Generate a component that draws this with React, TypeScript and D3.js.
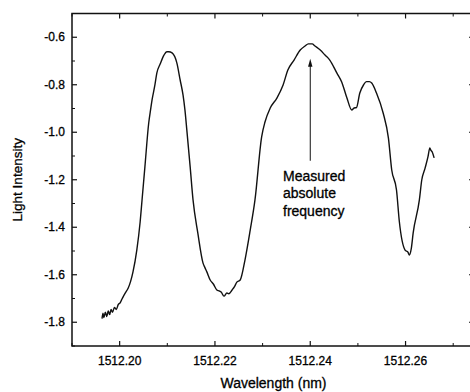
import React from "react";
import * as d3 from "d3";

const wavelength = [
  1512.1963, 1512.1965, 1512.1967, 1512.1970, 1512.1973, 1512.1976, 1512.1979, 1512.1982, 1512.1985,
  1512.1989, 1512.1993, 1512.1997, 1512.2001, 1512.2004, 1512.2007, 1512.2012, 1512.2018, 1512.2023,
  1512.2028, 1512.2036, 1512.2043, 1512.2047, 1512.2053, 1512.2061, 1512.2065, 1512.2068,
  1512.2074, 1512.2078, 1512.2085, 1512.2093, 1512.2099, 1512.2103, 1512.2110, 1512.2120, 1512.2127,
  1512.2133, 1512.2137, 1512.2141, 1512.2148, 1512.2154, 1512.2164, 1512.2175, 1512.2179, 1512.2183,
  1512.2190, 1512.2197, 1512.2204, 1512.2209, 1512.2213, 1512.2219, 1512.2225, 1512.2229, 1512.2236,
  1512.2241, 1512.2246, 1512.2253, 1512.2263, 1512.2274, 1512.2284, 1512.2298, 1512.2305, 1512.2316,
  1512.2330, 1512.2343, 1512.2353, 1512.2366, 1512.2379, 1512.2389, 1512.2396, 1512.2404, 1512.2410,
  1512.2421, 1512.2431, 1512.2441, 1512.2456, 1512.2466, 1512.2477, 1512.2487, 1512.2492, 1512.2497,
  1512.2504, 1512.2512, 1512.2518, 1512.2524, 1512.2529, 1512.2539, 1512.2553, 1512.2564, 1512.2571,
  1512.2581, 1512.2587, 1512.2599, 1512.2605, 1512.2608, 1512.2612, 1512.2616, 1512.2629, 1512.2634,
  1512.2641, 1512.2647, 1512.2651, 1512.2653, 1512.2656, 1512.2660,
];

const intensity = [
  -1.785, -1.762, -1.780, -1.758, -1.776, -1.752, -1.768, -1.746, -1.758,
  -1.738, -1.746, -1.726, -1.718, -1.706, -1.694, -1.676, -1.656, -1.628,
  -1.588, -1.496, -1.378, -1.285, -1.146, -0.961, -0.904, -0.864,
  -0.801, -0.751, -0.713, -0.675, -0.661, -0.661, -0.666, -0.708, -0.780,
  -0.843, -0.906, -0.991, -1.146, -1.285, -1.424, -1.551, -1.570, -1.588,
  -1.622, -1.640, -1.664, -1.668, -1.673, -1.690, -1.677, -1.680, -1.664,
  -1.650, -1.631, -1.622, -1.538, -1.412, -1.285, -1.019, -0.957, -0.898,
  -0.856, -0.801, -0.738, -0.696, -0.654, -0.637, -0.628, -0.628, -0.637,
  -0.654, -0.675, -0.696, -0.751, -0.788, -0.856, -0.906, -0.898, -0.896,
  -0.835, -0.800, -0.787, -0.787, -0.793, -0.835, -0.919, -1.024, -1.159,
  -1.243, -1.377, -1.496, -1.505, -1.517, -1.490, -1.424, -1.285, -1.201,
  -1.151, -1.104, -1.066, -1.075, -1.083, -1.108,
];

const yTicks = [-1.8, -1.6, -1.4, -1.2, -1.0, -0.8, -0.6];
const yMinor = [-1.9, -1.7, -1.5, -1.3, -1.1, -0.9, -0.7, -0.5];
const xTicks = [1512.2, 1512.22, 1512.24, 1512.26];
const xMinor = [1512.19, 1512.21, 1512.23, 1512.25, 1512.27];
const annotationLines = ["Measured", "absolute", "frequency"];
const annotationX = 1512.24;
const annotationY = [-0.69, -1.12];

export default function App() {
  const left = 72, right = 475, top = 13.5, bottom = 346;
  const x = d3.scaleLinear().domain([1512.19, 1512.19 + (right - left) / 4765]).range([left, right]);
  const y = d3.scaleLinear().domain([-1.9, -0.5]).range([bottom, top]);
  const pts = wavelength.map((w, i) => [w, intensity[i]] as [number, number]);
  const line = d3.line<[number, number]>().x(d => x(d[0])).y(d => y(d[1])).curve(d3.curveMonotoneX);
  const font = "'Liberation Sans', Arial, sans-serif";
  const ax = x(annotationX);
  const tipY = y(annotationY[0]);
  const tailY = y(annotationY[1]);
  const txt = { fill: "#000", stroke: "#000", strokeWidth: 0.3 };
  return (
    <svg width={470} height={392} style={{ position: "absolute", left: 0, top: 0, background: "#fff" }}
      fontFamily={font}>
      <path d={line(pts) || ""} fill="none" stroke="#111" strokeWidth={1.4} strokeLinejoin="round" />
      <rect x={left} y={top} width={right - left} height={bottom - top} fill="none" stroke="#111" strokeWidth={1.5} />
      {yTicks.map(t => (
        <g key={"y" + t}>
          <line x1={left} x2={left + 5} y1={y(t)} y2={y(t)} stroke="#111" strokeWidth={1.2} />
          <line x1={right} x2={right - 6} y1={y(t)} y2={y(t)} stroke="#111" strokeWidth={1.2} />
          <text x={left - 7} y={y(t) + 4.2} textAnchor="end" fontSize={12} {...txt}>
            {t.toFixed(1)}
          </text>
        </g>
      ))}
      {yMinor.map(t => (
        <g key={"ym" + t}>
          <line x1={left} x2={left + 3} y1={y(t)} y2={y(t)} stroke="#111" strokeWidth={1} />
          <line x1={right} x2={right - 3} y1={y(t)} y2={y(t)} stroke="#111" strokeWidth={1} />
        </g>
      ))}
      {xTicks.map(t => (
        <g key={"x" + t}>
          <line x1={x(t)} x2={x(t)} y1={bottom} y2={bottom - 5} stroke="#111" strokeWidth={1.2} />
          <line x1={x(t)} x2={x(t)} y1={top} y2={top + 5} stroke="#111" strokeWidth={1.2} />
          <text x={x(t)} y={bottom + 19} textAnchor="middle" fontSize={12} {...txt}>
            {t.toFixed(2)}
          </text>
        </g>
      ))}
      {xMinor.map(t => (
        <g key={"xm" + t}>
          <line x1={x(t)} x2={x(t)} y1={bottom} y2={bottom - 3} stroke="#111" strokeWidth={1} />
          <line x1={x(t)} x2={x(t)} y1={top} y2={top + 3} stroke="#111" strokeWidth={1} />
        </g>
      ))}
      <text x={(left + right) / 2} y={388} textAnchor="middle" fontSize={14} {...txt}>Wavelength (nm)</text>
      <text transform={`translate(21.5,${(top + bottom) / 2}) rotate(-90)`} textAnchor="middle" fontSize={13.5} {...txt}>
        Light Intensity
      </text>
      <line x1={ax} x2={ax} y1={tailY} y2={tipY + 6} stroke="#111" strokeWidth={1} />
      <path d={`M${ax},${tipY} L${ax - 2.2},${tipY + 8} L${ax + 2.2},${tipY + 8} Z`} fill="#111" />
      {annotationLines.map((s, i) => (
        <text key={s} x={283} y={180.7 + i * 17.7} fontSize={14} {...txt}>{s}</text>
      ))}
    </svg>
  );
}
